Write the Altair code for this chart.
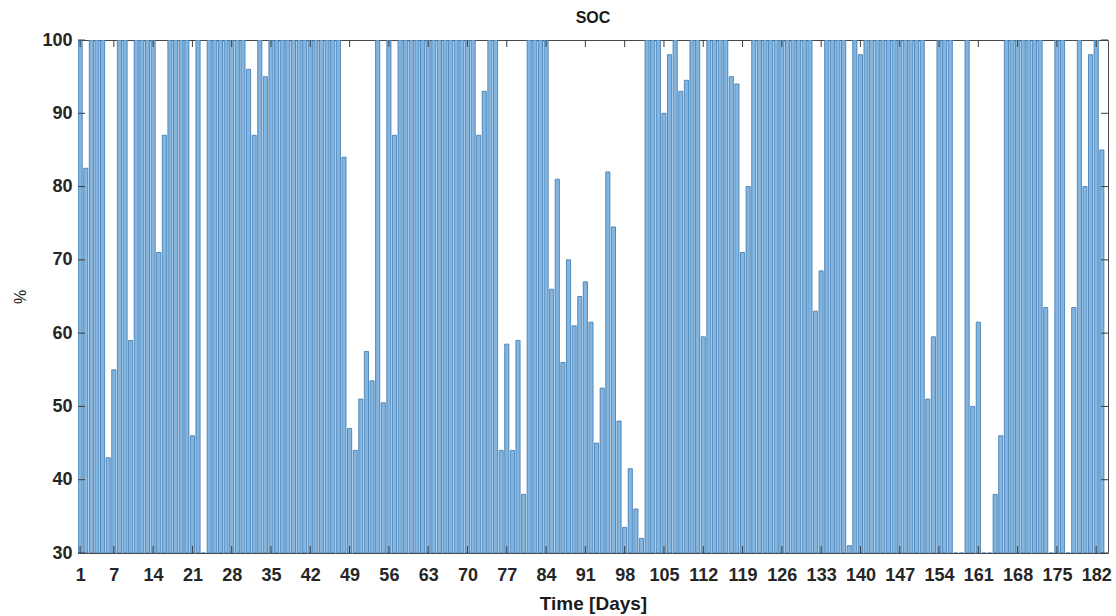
import altair as alt
import pandas as pd

# Daily battery state of charge (%), one bar per day
soc_days_001_030 = [100, 82.5, 100, 100, 100, 43, 55, 100, 100, 59,
                    100, 100, 100, 100, 71, 87, 100, 100, 100, 100,
                    46, 100, 30, 100, 100, 100, 100, 100, 100, 100]
soc_days_031_060 = [96, 87, 100, 95, 100, 100, 100, 100, 100, 100,
                    100, 100, 100, 100, 100, 100, 100, 84, 47, 44,
                    51, 57.5, 53.5, 100, 50.5, 100, 87, 100, 100, 100]
soc_days_061_090 = [100, 100, 100, 100, 100, 100, 100, 100, 100, 100,
                    100, 87, 93, 100, 100, 44, 58.5, 44, 59, 38,
                    100, 100, 100, 100, 66, 81, 56, 70, 61, 65]
soc_days_091_120 = [67, 61.5, 45, 52.5, 82, 74.5, 48, 33.5, 41.5, 36,
                    32, 100, 100, 100, 90, 98, 100, 93, 94.5, 100,
                    100, 59.5, 100, 100, 100, 100, 95, 94, 71, 80]
soc_days_121_150 = [100, 100, 100, 100, 100, 100, 100, 100, 100, 100,
                    100, 63, 68.5, 100, 100, 100, 100, 31, 100, 98,
                    100, 100, 100, 100, 100, 100, 100, 100, 100, 100]
soc_days_151_183 = [100, 51, 59.5, 100, 100, 100, 30, 30, 100, 50,
                    61.5, 30, 30, 38, 46, 100, 100, 100, 100, 100,
                    100, 100, 63.5, 30, 100, 100, 30, 63.5, 100, 80,
                    98, 100, 85]

x_tick_days = [1, 7, 14, 21, 28, 35, 42, 49, 56, 63, 70, 77, 84, 91, 98, 105,
               112, 119, 126, 133, 140, 147, 154, 161, 168, 175, 182]
y_tick_values = [30, 40, 50, 60, 70, 80, 90, 100]

soc = (soc_days_001_030 + soc_days_031_060 + soc_days_061_090
       + soc_days_091_120 + soc_days_121_150 + soc_days_151_183)
days = list(range(1, len(soc) + 1))

df = pd.DataFrame({"day": days, "soc": soc})
df["x0"] = df["day"] - 0.37
df["x1"] = df["day"] + 0.37

W, H = 1030, 513
TICK = 7
FONT = "Liberation Sans"

x_scale = alt.Scale(domain=[0.62, 184.1], nice=False, zero=False)
y_scale = alt.Scale(domain=[30, 100], nice=False, zero=False)

x_axis = alt.Axis(values=x_tick_days, title="Time [Days]",
                  labelPadding=13, titlePadding=10, titleFontSize=19,
                  labelOverlap=False)
y_axis = alt.Axis(values=y_tick_values, title="%",
                  labelPadding=6, titlePadding=13, titleFontSize=16,
                  titleFontWeight="normal", labelOverlap=False)

bars = alt.Chart(df).mark_bar(
    fill="#82b6e1", stroke="#3a76ae", strokeWidth=0.8, clip=True
).encode(
    x=alt.X("x0:Q", scale=x_scale, axis=x_axis),
    x2="x1:Q",
    y=alt.Y("soc:Q", scale=y_scale, axis=y_axis),
    y2=alt.datum(30),
)

xt = pd.DataFrame({"t": x_tick_days})
yt = pd.DataFrame({"v": y_tick_values})
tick_style = dict(color="#3c3c3c", strokeWidth=1)

left_ticks = alt.Chart(yt).mark_rule(**tick_style).encode(
    y=alt.Y("v:Q", scale=y_scale, axis=y_axis),
    x=alt.value(0), x2=alt.value(TICK))
right_ticks = alt.Chart(yt).mark_rule(**tick_style).encode(
    y=alt.Y("v:Q", scale=y_scale, axis=y_axis),
    x=alt.value(W - TICK), x2=alt.value(W))
bottom_ticks = alt.Chart(xt).mark_rule(**tick_style).encode(
    x=alt.X("t:Q", scale=x_scale, axis=x_axis),
    y=alt.value(H - TICK), y2=alt.value(H))
top_ticks = alt.Chart(xt).mark_rule(**tick_style).encode(
    x=alt.X("t:Q", scale=x_scale, axis=x_axis),
    y=alt.value(0), y2=alt.value(TICK))

chart = alt.layer(bars, left_ticks, right_ticks, bottom_ticks, top_ticks).properties(
    width=W,
    height=H,
    title=alt.TitleParams("SOC", font=FONT, fontSize=16, fontWeight="bold",
                          color="#1a1a1a", offset=5, anchor="middle"),
    padding={"left": 78, "top": 40, "right": 8, "bottom": 63},
    autosize=alt.AutoSizeParams(type="none"),
).configure_view(
    stroke="#4a4a4a", strokeWidth=1
).configure_axis(
    labelFont=FONT, labelFontSize=18, labelFontWeight="bold", labelColor="#262626",
    titleFont=FONT, titleFontWeight="bold", titleColor="#1a1a1a",
    ticks=False, domain=False, grid=False,
)

chart.save("out.html", embed_options={"renderer": "svg", "actions": False})
